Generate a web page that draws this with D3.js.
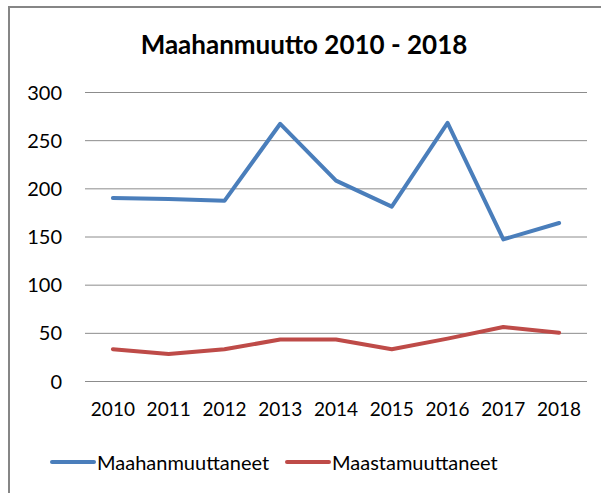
<!DOCTYPE html>
<html>
<head>
<meta charset="utf-8">
<script src="https://cdn.jsdelivr.net/npm/d3@7"></script>
<style>
  body { margin: 0; background: #fff; }
  text { font-family: Lato, "Open Sans", sans-serif; fill: #000; }
</style>
</head>
<body>
<div id="chart"></div>
<script>
var years = ["2010", "2011", "2012", "2013", "2014", "2015", "2016", "2017", "2018"];
var maahanmuuttaneet = [190, 189, 187, 267, 208, 181, 268, 147, 164];
var maastamuuttaneet = [33, 28, 33, 43, 43, 33, 44, 56, 50];
var yTicks = [0, 50, 100, 150, 200, 250, 300];
var seriesNames = ["Maahanmuuttaneet", "Maastamuuttaneet"];
var seriesColors = ["#4a7ebb", "#be4b48"];

var width = 601, height = 493;
var margin = {left: 85, right: 14, top: 92, bottom: 112};

var svg = d3.select("#chart").append("svg")
    .attr("width", width)
    .attr("height", height);

// chart frame, cut off at right and bottom
svg.append("rect")
    .attr("x", 9).attr("y", 7)
    .attr("width", 640).attr("height", 540)
    .attr("fill", "#fff")
    .attr("stroke", "#868686")
    .attr("stroke-width", 2);

svg.append("text")
    .attr("x", 304).attr("y", 54)
    .attr("text-anchor", "middle")
    .style("font-size", "26px")
    .style("font-weight", "bold")
    .text("Maahanmuutto 2010 - 2018");

var x = d3.scaleBand()
    .domain(years)
    .range([margin.left, width - margin.right]);

var y = d3.scaleLinear()
    .domain([0, 300])
    .range([height - margin.bottom, margin.top]);

var yAxis = d3.axisLeft(y)
    .tickValues(yTicks)
    .tickSize(-(width - margin.right - margin.left))
    .tickPadding(23);

var gy = svg.append("g")
    .attr("transform", "translate(" + margin.left + ",0)")
    .call(yAxis);
gy.select(".domain").remove();
gy.selectAll(".tick line").attr("stroke", "#8c8c8c").attr("stroke-width", 1);
gy.selectAll(".tick text").style("font-size", "20px").attr("dy", "0.35em");

var xAxis = d3.axisBottom(x).tickSize(0).tickPadding(22);
var gx = svg.append("g")
    .attr("transform", "translate(0," + (height - margin.bottom) + ")")
    .call(xAxis);
gx.select(".domain").remove();
gx.selectAll(".tick text").style("font-size", "19px");

var line = d3.line()
    .x(function(d, i) { return x(years[i]) + x.bandwidth() / 2; })
    .y(function(d) { return y(d); });

[maahanmuuttaneet, maastamuuttaneet].forEach(function(s, i) {
    svg.append("path")
        .datum(s)
        .attr("fill", "none")
        .attr("stroke", seriesColors[i])
        .attr("stroke-width", 4)
        .attr("stroke-linejoin", "round")
        .attr("stroke-linecap", "round")
        .attr("d", line);
});

// legend
var legendX = [50, 285];
var legend = svg.append("g");
seriesNames.forEach(function(name, i) {
    legend.append("line")
        .attr("x1", legendX[i] + 2).attr("x2", legendX[i] + 44)
        .attr("y1", 462).attr("y2", 462)
        .attr("stroke", seriesColors[i])
        .attr("stroke-width", 4)
        .attr("stroke-linecap", "round");
    legend.append("text")
        .attr("x", legendX[i] + 47).attr("y", 470)
        .style("font-size", "20px")
        .text(name);
});
</script>
</body>
</html>
